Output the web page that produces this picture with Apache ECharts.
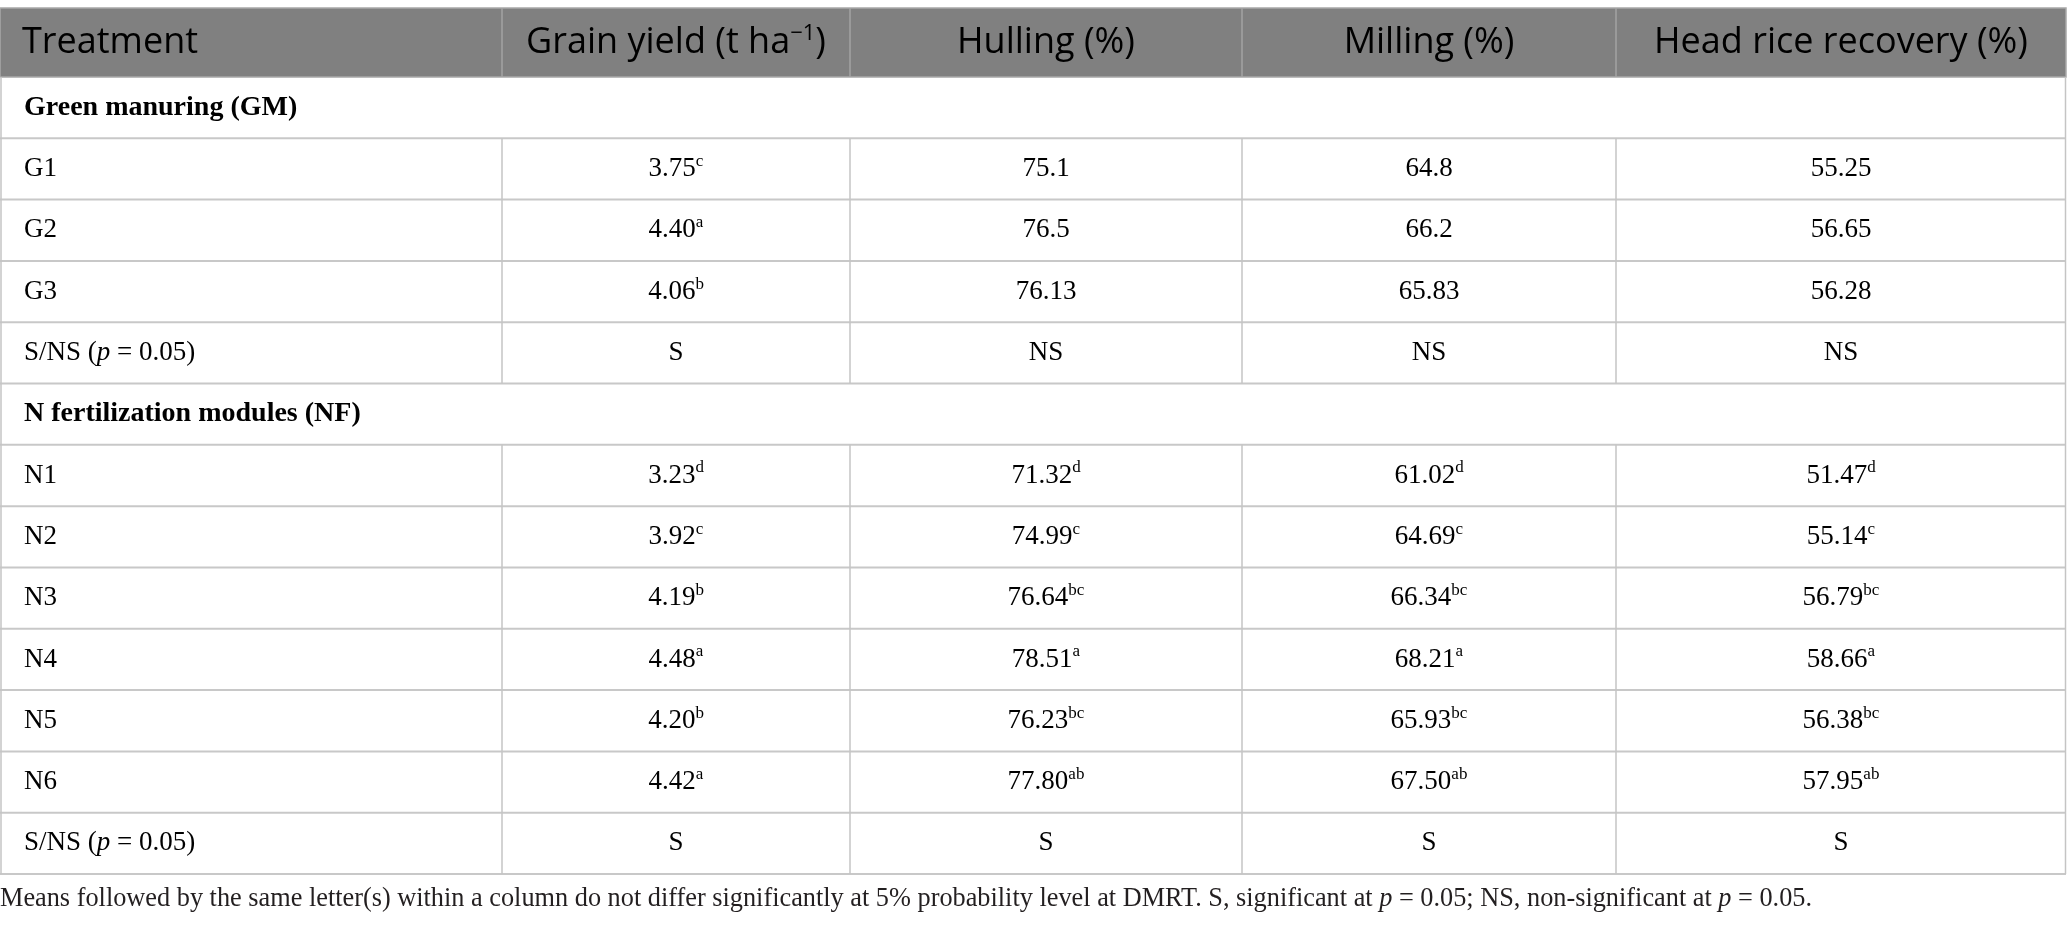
<!DOCTYPE html>
<html>
<head>
<meta charset="utf-8">
<script src="https://cdn.jsdelivr.net/npm/echarts@6/dist/echarts.min.js"></script>
<style>
  html, body { margin: 0; padding: 0; background: #fff; }
  #main { width: 2067px; height: 931px; }
</style>
</head>
<body>
<div id="main"></div>
<script>
// table content
const headerLabels = ['Treatment', 'Grain yield (t ha⁻¹)', 'Hulling (%)', 'Milling (%)', 'Head rice recovery (%)'];
const sectionTitles = ['Green manuring (GM)', 'N fertilization modules (NF)'];
const significanceLabel = 'S/NS (p = 0.05)';
const footnote = 'Means followed by the same letter(s) within a column do not differ significantly at 5% probability level at DMRT. S, significant at p = 0.05; NS, non-significant at p = 0.05.';

const gmTreatments = ['G1', 'G2', 'G3'];
const gmGrainYield = ['3.75', '4.40', '4.06'];
const gmGrainLetters = ['c', 'a', 'b'];
const gmHulling = ['75.1', '76.5', '76.13'];
const gmMilling = ['64.8', '66.2', '65.83'];
const gmHeadRice = ['55.25', '56.65', '56.28'];
const gmSignificance = ['S', 'NS', 'NS', 'NS'];

const nfTreatments = ['N1', 'N2', 'N3', 'N4', 'N5', 'N6'];
const nfGrainYield = ['3.23', '3.92', '4.19', '4.48', '4.20', '4.42'];
const nfGrainLetters = ['d', 'c', 'b', 'a', 'b', 'a'];
const nfHulling = ['71.32', '74.99', '76.64', '78.51', '76.23', '77.80'];
const nfHullingLetters = ['d', 'c', 'bc', 'a', 'bc', 'ab'];
const nfMilling = ['61.02', '64.69', '66.34', '68.21', '65.93', '67.50'];
const nfMillingLetters = ['d', 'c', 'bc', 'a', 'bc', 'ab'];
const nfHeadRice = ['51.47', '55.14', '56.79', '58.66', '56.38', '57.95'];
const nfHeadRiceLetters = ['d', 'c', 'bc', 'a', 'bc', 'ab'];
const nfSignificance = ['S', 'S', 'S', 'S'];

// layout (column edges in axis units)
const colEdges = [0, 502, 850, 1242, 1616, 2066];

let chartDom = document.getElementById('main');
let myChart = echarts.init(chartDom, null, { renderer: 'canvas' });

// build rows
let bodyRows = [];
function addGroup(title, treatments, cols, sig) {
	bodyRows.push({ kind: 'section', text: title });
	treatments.forEach((t, i) => {
		let cells = [{ v: t, s: '' }];
		for (let [vals, letters] of cols) {
			cells.push({ v: vals[i], s: letters ? letters[i] : '' });
		}
		bodyRows.push({ kind: 'data', cells: cells });
	});
	bodyRows.push({ kind: 'data', cells: [{ v: significanceLabel, s: '' }].concat(sig.map(v => ({ v: v, s: '' }))) });
}
addGroup(sectionTitles[0], gmTreatments, [
	[gmGrainYield, gmGrainLetters], [gmHulling, null], [gmMilling, null], [gmHeadRice, null]
], gmSignificance);
addGroup(sectionTitles[1], nfTreatments, [
	[nfGrainYield, nfGrainLetters], [nfHulling, nfHullingLetters], [nfMilling, nfMillingLetters], [nfHeadRice, nfHeadRiceLetters]
], nfSignificance);

const serif = '"Liberation Serif", "Times New Roman", serif';
const sans = '"Open Sans", "Noto Sans", sans-serif';
const ink = '#231f20';
const bodyRich = {
	v: { fontFamily: serif, fontSize: 27, lineHeight: 32, fontWeight: 'normal', color: ink },
	i: { fontFamily: serif, fontSize: 27, lineHeight: 32, fontWeight: 'normal', fontStyle: 'italic', color: ink },
	b: { fontFamily: serif, fontSize: 28, lineHeight: 32, fontWeight: 'bold', color: ink },
	s: { fontFamily: serif, fontSize: 17, lineHeight: 32, fontWeight: 'normal', verticalAlign: 'top', color: ink }
};
const headRich = {
	h: { fontFamily: sans, fontSize: 36, lineHeight: 46, color: '#ffffff' },
	hs: { fontFamily: sans, fontSize: 22, lineHeight: 46, verticalAlign: 'top', color: '#ffffff', padding: [3, 0, 0, 0] }
};

// turn plain text into rich markup: italic p, superscript letters
function cellText(cell) {
	let parts = cell.v.split(/\bp(?= =)/);
	let out = parts.map(p => p ? '{v|' + p + '}' : '').join('{i|p}');
	if (cell.s) out += '{s|' + cell.s + '}';
	return out;
}
function headText(label) {
	let m = label.match(/^(.*?)([⁻¹]+)(.*)$/);
	if (!m) return '{h|' + label + '}';
	let sup = m[2].replace('⁻', '−').replace('¹', '1');
	return '{h|' + m[1] + '}{hs|' + sup + '}{h|' + m[3] + '}';
}
function footText(str) {
	return str.split(/\bp(?= =)/).map(p => '{v|' + p + '}').join('{i|p}');
}

const hLine = '#c8c8c8';
const vLine = '#c4c4c4';

function renderHeader(params, api) {
	let c = api.coord([0, 0]);
	let h = api.size([0, 1])[1];
	let top = c[1] - h / 2;
	let xs = colEdges.map(e => api.coord([e, 0])[0]);
	let children = [{
		type: 'rect',
		shape: { x: xs[0], y: top, width: xs[5] - xs[0], height: h },
		style: { fill: '#808080', stroke: '#a8a8a8', lineWidth: 1.5 }
	}];
	for (let k = 1; k < 5; k++) {
		children.push({
			type: 'line',
			shape: { x1: xs[k], y1: top, x2: xs[k], y2: top + h },
			style: { stroke: '#a3a3a3', lineWidth: 1.5 }
		});
	}
	headerLabels.forEach((label, k) => {
		children.push({
			type: 'text',
			style: {
				text: headText(label),
				rich: headRich,
				x: k === 0 ? xs[0] + 22 : (xs[k] + xs[k + 1]) / 2,
				y: c[1],
				align: k === 0 ? 'left' : 'center',
				verticalAlign: 'middle'
			}
		});
	});
	return { type: 'group', children: children };
}

function renderBody(params, api) {
	let i = params.dataIndex;
	let row = bodyRows[i];
	let c = api.coord([0, i]);
	let h = api.size([0, 1])[1];
	let top = c[1] - h / 2;
	let bottom = c[1] + h / 2;
	let xs = colEdges.map(e => api.coord([e, i])[0]);
	let children = [];
	children.push({
		type: 'line',
		shape: { x1: xs[0], y1: bottom, x2: xs[5], y2: bottom },
		style: { stroke: hLine, lineWidth: 2 }
	});
	children.push({
		type: 'line',
		shape: { x1: xs[0] + 1, y1: top, x2: xs[0] + 1, y2: bottom },
		style: { stroke: vLine, lineWidth: 1.5 }
	});
	children.push({
		type: 'line',
		shape: { x1: xs[5] - 0.5, y1: top, x2: xs[5] - 0.5, y2: bottom },
		style: { stroke: vLine, lineWidth: 1.5 }
	});
	if (row.kind === 'section') {
		children.push({
			type: 'text',
			style: {
				text: '{b|' + row.text + '}',
				rich: bodyRich,
				x: xs[0] + 24,
				y: c[1],
				align: 'left',
				verticalAlign: 'middle'
			}
		});
	} else {
		for (let k = 1; k < 5; k++) {
			children.push({
				type: 'line',
				shape: { x1: xs[k], y1: top, x2: xs[k], y2: bottom },
				style: { stroke: vLine, lineWidth: 1.5 }
			});
		}
		row.cells.forEach((cell, k) => {
			children.push({
				type: 'text',
				style: {
					text: cellText(cell),
					rich: bodyRich,
					x: k === 0 ? xs[0] + 24 : (xs[k] + xs[k + 1]) / 2,
					y: c[1],
					align: k === 0 ? 'left' : 'center',
					verticalAlign: 'middle'
				}
			});
		});
	}
	return { type: 'group', children: children };
}

let option = {
	animation: false,
	title: {
		text: footText(footnote),
		left: 0,
		top: 883,
		padding: 0,
		textStyle: {
			fontWeight: 'normal',
			rich: {
				v: { fontFamily: serif, fontSize: 26.3, lineHeight: 32, fontWeight: 'normal', color: ink },
				i: { fontFamily: serif, fontSize: 26.3, lineHeight: 32, fontWeight: 'normal', fontStyle: 'italic', color: ink }
			}
		}
	},
	grid: [
		{ left: 0, top: 8, width: 2066, height: 69 },
		{ left: 0, top: 77, width: 2066, height: 797 }
	],
	xAxis: [
		{ type: 'value', gridIndex: 0, min: 0, max: 2066, show: false },
		{ type: 'value', gridIndex: 1, min: 0, max: 2066, show: false }
	],
	yAxis: [
		{ type: 'category', gridIndex: 0, data: ['header'], inverse: true, show: false },
		{ type: 'category', gridIndex: 1, data: bodyRows.map((r, i) => 'row' + i), inverse: true, show: false }
	],
	series: [
		{
			type: 'custom',
			xAxisIndex: 0,
			yAxisIndex: 0,
			renderItem: renderHeader,
			data: [[0, 0]],
			encode: { x: 0, y: 1 },
			silent: true
		},
		{
			type: 'custom',
			xAxisIndex: 1,
			yAxisIndex: 1,
			renderItem: renderBody,
			data: bodyRows.map((r, i) => [0, i]),
			encode: { x: 0, y: 1 },
			silent: true
		}
	]
};

myChart.setOption(option);
</script>
</body>
</html>
